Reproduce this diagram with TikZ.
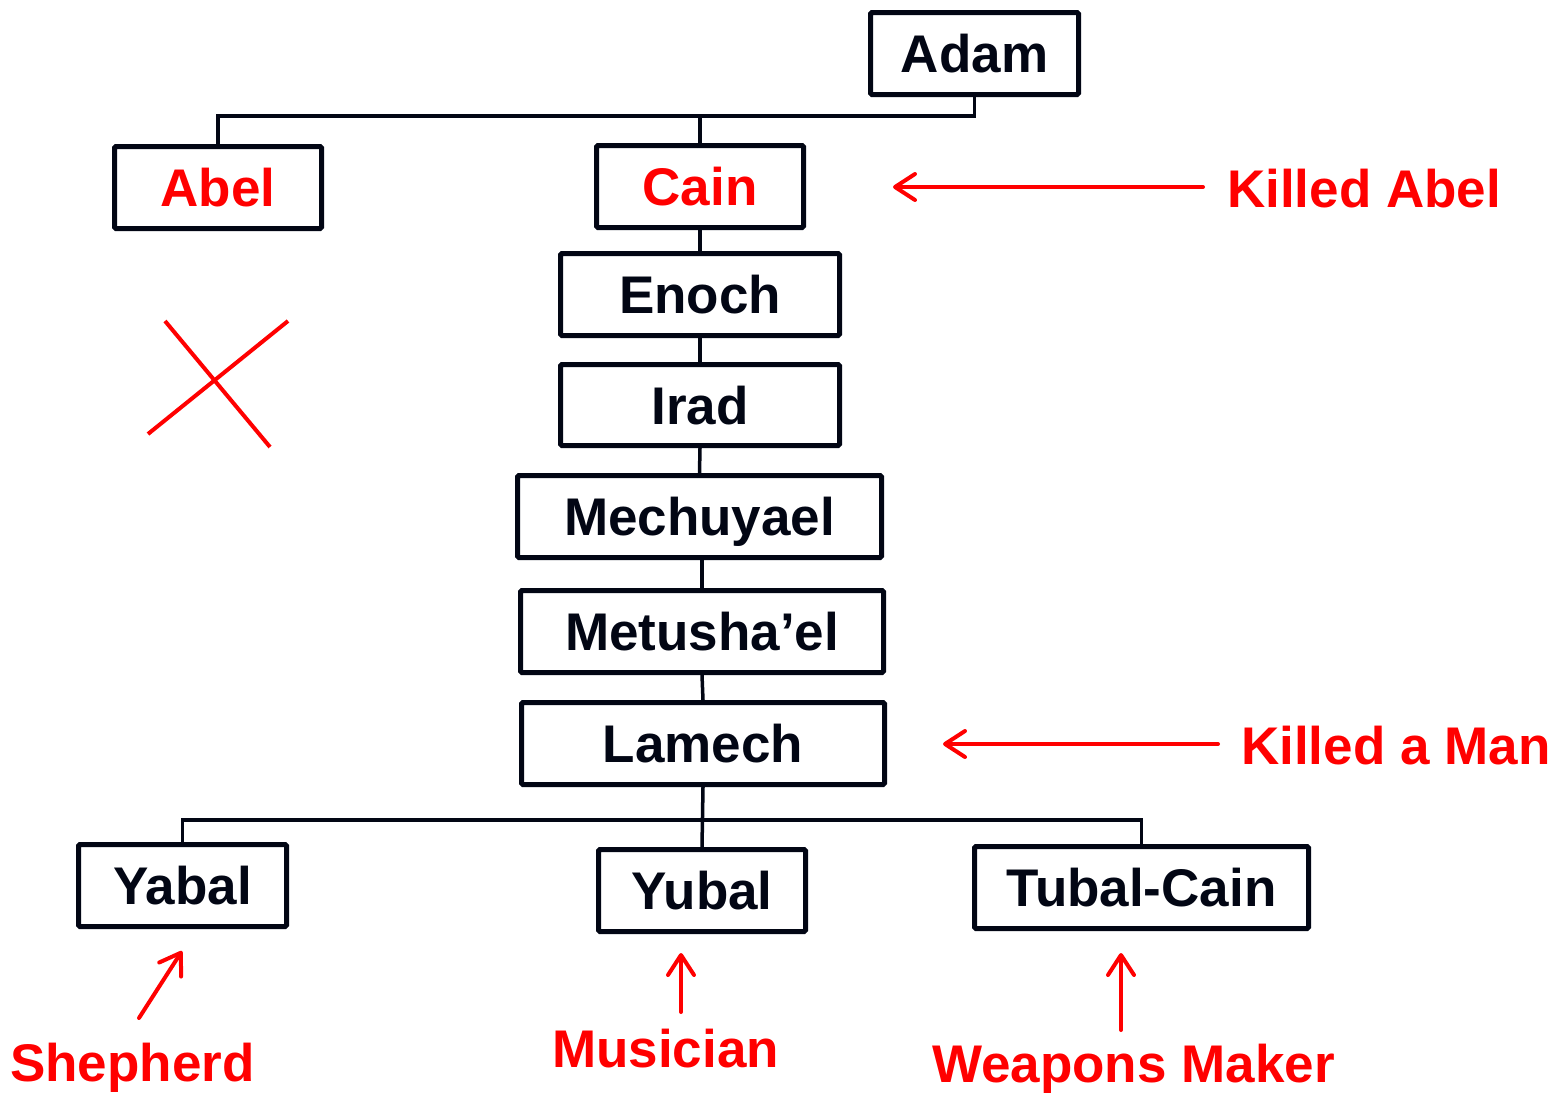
\documentclass[tikz,border=0pt]{standalone}
\usepackage{fontspec}
\setmainfont{Liberation Sans}
\usetikzlibrary{arrows.meta}
\definecolor{ink}{RGB}{2,6,20}
\definecolor{rd}{RGB}{255,0,0}
\begin{document}
\begin{tikzpicture}[x=1pt,y=-1pt,
  box/.style={draw=ink, line width=5pt, rectangle, rounded corners=1.5pt, inner sep=0pt,
    font=\fontsize{53}{60}\selectfont\bfseries, text=ink, text height=38pt, text depth=0pt,
    minimum height=82pt},
  redname/.style={text=rd},
  lbl/.style={font=\fontsize{53}{60}\selectfont\bfseries, text=rd, inner sep=0pt,
    text height=38pt, text depth=0pt, anchor=west},
  link/.style={draw=ink, line width=3.5pt},
  note/.style={draw=rd, line width=4pt, line cap=round,
    -{Straight Barb[length=20pt,width=26pt,line cap=round,round]}}
]
\useasboundingbox (0,0) rectangle (1553,1093);

% family boxes
\node[box, minimum width=208pt] (adam) at (974.5,53.5) {Adam};
\node[box, redname, minimum width=207pt] (abel) at (218,187.5) {Abel};
\node[box, redname, minimum width=207pt] (cain) at (700,186.5) {Cain};
\node[box, minimum width=279pt] (enoch) at (700,294.5) {Enoch};
\node[box, minimum width=279pt, minimum height=81pt] (irad) at (700,405) {Irad};
\node[box, minimum width=364pt] (mech) at (699.5,516.5) {Mechuyael};
\node[box, minimum width=363pt] (metu) at (702,631.5) {Metusha’el};
\node[box, minimum width=363pt] (lamech) at (703,743.5) {Lamech};
\node[box, minimum width=208pt] (yabal) at (182.5,885.5) {Yabal};
\node[box, minimum width=207pt] (yubal) at (702,890.5) {Yubal};
\node[box, minimum width=334pt] (tubal) at (1141.5,887.5) {Tubal-Cain};

% connectors
\path (adam.south) ++(0,19) coordinate (j1);
\draw[link] (adam.south) -- (j1) -| (abel.north);
\draw[link] (j1 -| cain.north) -- (cain.north);
\draw[link] (cain.south) -- (enoch.north);
\draw[link] (enoch.south) -- (irad.north);
\draw[link] (irad.south) -- (mech.north);
\draw[link] (mech.south -| metu.north) -- (metu.north);
\draw[link] (metu.south) -- (lamech.north);
\path (lamech.south) ++(0,33) coordinate (j2);
\draw[link] (lamech.south) -- (yubal.north);
\draw[link] (yabal.north) |- (j2) -| (tubal.north);

% annotations
\node[lbl] (killabel) at (1227,188) {Killed Abel};
\node[lbl] (killman) at (1241,745) {Killed a Man};
\node[lbl] (shep) at (10,1062) {Shepherd};
\node[lbl] (musi) at (552,1048) {Musician};
\node[lbl] (weap) at (932,1063) {Weapons Maker};

\coordinate (kaend) at (893,187);
\coordinate (kmend) at (943,744);
\draw[note] ([xshift=-24pt]killabel.west |- kaend) -- (kaend);
\draw[note] ([xshift=-23pt]killman.west |- kmend) -- (kmend);

\coordinate (shs) at (139,1018);
\coordinate (she) at (182,951);
\draw[note] (shs) -- (she);
\coordinate (mus) at (681,1012);
\coordinate (mue) at (681,953);
\draw[note] (mus) -- (mue);
\coordinate (wes) at (1121,1030);
\coordinate (wee) at (1121,953);
\draw[note] (wes) -- (wee);

% cross under Abel
\draw[rd, line width=4pt] (165,321) -- (270,447);
\draw[rd, line width=4pt] (148,434) -- (288,321);
\end{tikzpicture}
\end{document}
